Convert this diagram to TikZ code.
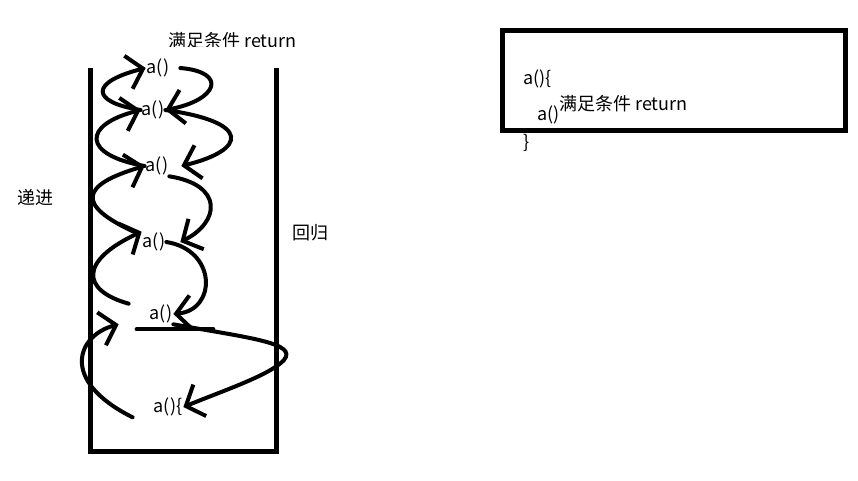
\documentclass[tikz,border=0pt]{standalone}
\usepackage{fontspec}
\setmainfont{Noto Sans CJK SC}
\usetikzlibrary{arrows.meta}
\usetikzlibrary{positioning}

\begin{document}
\begin{tikzpicture}
[
	x								= 1pt,
	y								= -1pt,
	%
	every node/.style				=
	{
		font						= \fontsize{18}{21}\selectfont,
		inner sep					= 1pt
	},
	%
	wall/.style						= {line width = 5pt},
	stroke/.style					= {line width = 4pt, line cap = round},
	swirl/.style					=
	{
		stroke,
		-{Straight Barb[length = 15pt, width = 34pt]}
	},
]
	\useasboundingbox (0,0) rectangle (858,480);

	% the stack
	\draw [wall] (90,68) -- (90,451) -- (276,451) -- (276,68);

	\begin{scope}
		\clip (150,0) rectangle (330,46);
		\node (topcond) [anchor = base west] at (167,47) {满足条件 return};
	\end{scope}

	\node (call1) at (158,68) {a()};
	\node (call2) at (153,110) {a()};
	\node (call3) at (157,166) {a()};
	\node (call4) at (154,242) {a()};
	\node (call5) at (161,314) {a()};
	\node (call6) at (168,407) {a()\{};

	\node (descend) at (35,198) {递进};
	\node (ascend) at (310,233) {回归};

	% left side: going up
	\draw [swirl] (call2.west) .. controls (90,102) and (90,82) .. (call1.west);
	\draw [swirl] (call3.west) .. controls (82,155) and (82,125) .. (call2.west);
	\draw [swirl] ([xshift=-8pt]call4.north west) .. controls (76,205) and (80,185) .. (call3.west);
	\draw [swirl] ([xshift=-20pt]call5.north west) .. controls (80,290) and (80,260) .. (call4.north west);
	\draw [swirl] ([xshift=-20pt]call6.south west) .. controls (58,380) and (78,335) .. ([xshift=-30pt]call5.south west);

	% right side: coming back
	\draw [swirl] ([xshift=10pt]call1.east) .. controls (228,72) and (218,100) .. (call2.east);
	\draw [swirl] (call2.east) .. controls (252,122) and (247,150) .. ([xshift=12pt]call3.east);
	\draw [swirl] (call3.south east) .. controls (224,185) and (220,222) .. ([xshift=14pt]call4.east);
	\draw [swirl] (call4.east) .. controls (217,250) and (217,310) .. (call5.east);
	\draw [swirl] (call5.south east) .. controls (250,338) and (298,343) .. (284,360)
		.. controls (270,375) and (225,390) .. (call6.east);
	\draw [stroke] ([xshift=-12pt,yshift=-5pt]call5.south west) -- ([xshift=40pt,yshift=-5pt]call5.south east);

	% the code box
	\draw [wall] (502,30) rectangle (845,130);

	\node (codeopen) [anchor = west] at (522,79) {a()\{};
	\node (codecall) [anchor = west] at (536,115) {a()};
	\node (codecond) [anchor = west] at (558,104) {满足条件 return};
	\node (codeclose) [below = 64pt of codeopen.west, anchor = west] {\}};

\end{tikzpicture}
\end{document}
